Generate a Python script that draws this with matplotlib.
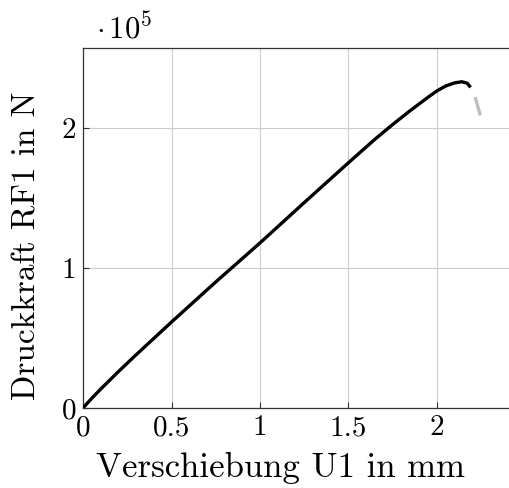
import matplotlib
matplotlib.use("Agg")
import matplotlib.pyplot as plt

plt.rcParams["font.family"] = "serif"
plt.rcParams["font.serif"] = ["cmr10", "DejaVu Serif"]
plt.rcParams["mathtext.fontset"] = "cm"
plt.rcParams["axes.unicode_minus"] = False

# Load-displacement curve (force in units of 1e5 N)
displacement = [0.0, 0.05, 0.1, 0.2, 0.3, 0.5, 0.75, 1.0, 1.25, 1.5, 1.65, 1.75,
                1.85, 1.95, 2.0, 2.05, 2.1, 2.14, 2.17, 2.19]
force = [0.0, 0.07, 0.135, 0.26, 0.38, 0.614, 0.90, 1.179, 1.467, 1.752, 1.92, 2.025,
         2.125, 2.22, 2.265, 2.30, 2.322, 2.33, 2.32, 2.29]

# Post-failure segment
displacement_post = [2.215, 2.245]
force_post = [2.22, 2.09]

x_ticks = [0, 0.5, 1, 1.5, 2]
x_tick_labels = ["0", "0.5", "1", "1.5", "2"]
y_ticks = [0, 1, 2]
y_tick_labels = ["0", "1", "2"]

W, H = 510, 488
fig = plt.figure(figsize=(W / 100, H / 100), dpi=100)
left, right, top, bottom = 83, 510, 48, 408
ax = fig.add_axes([left / W, (H - bottom) / H, (right - left) / W, (bottom - top) / H])

ax.plot(displacement, force, color="black", lw=2.4, solid_capstyle="butt",
        solid_joinstyle="round", zorder=3)
ax.plot(displacement_post, force_post, color="#bdbdbd", lw=2.4, solid_capstyle="butt", zorder=3)

ax.set_xlim(0, (right - left) / 177.0)
ax.set_ylim(0, 2.571)
ax.set_xticks(x_ticks)
ax.set_xticklabels(x_tick_labels)
ax.set_yticks(y_ticks)
ax.set_yticklabels(y_tick_labels)

ax.grid(True, color="#cccccc", lw=0.8)
ax.set_axisbelow(True)
ax.spines["right"].set_visible(False)
for s in ("left", "bottom", "top"):
    ax.spines[s].set_linewidth(0.9)
    ax.spines[s].set_color("#333333")
ax.tick_params(direction="in", length=4, width=0.8, labelsize=21, pad=5, color="#333333")

fig.text(280 / W, 1 - 468 / H, "Verschiebung U1 in mm", ha="center", va="center", fontsize=25)
fig.text(27 / W, 1 - 246 / H, "Druckkraft RF1 in N", ha="center", va="center",
         rotation=90, fontsize=24)
fig.text(96 / W, 1 - 28 / H, r"$\cdot\,10^5$", ha="left", va="center", fontsize=22)

fig.savefig("out.png", dpi=100)
